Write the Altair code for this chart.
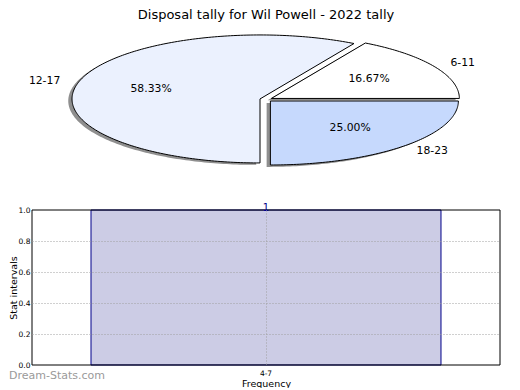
import altair as alt
import numpy as np
import pandas as pd

# ---------------- data ----------------
chart_title = "Disposal tally for Wil Powell - 2022 tally"
pie_labels = ["6-11", "12-17", "18-23"]
pie_values = [2, 7, 3]
pie_colors = ["#ffffff", "#ebf1fe", "#c6d9fd"]

bar_categories = ["4-7"]
bar_counts = [1]

watermark = ["Dream-Stats.com"]

# ---------------- pie geometry (elliptical, exploded, matplotlib-like) ----------------
EXPLODE = 0.033
SH_U, SH_V = -0.02, -0.03
FONT = "DejaVu Sans"

total = float(sum(pie_values))
poly_rows, lab_rows = [], []
start = 0.0
for lab, val in zip(pie_labels, pie_values):
    frac = val / total
    t1, t2 = start * 360.0, (start + frac) * 360.0
    mid = np.deg2rad((t1 + t2) / 2.0)
    cx, cy = EXPLODE * np.cos(mid), EXPLODE * np.sin(mid)
    ang = np.deg2rad(np.linspace(t1, t2, int(np.ceil(t2 - t1)) + 1))
    us = [cx] + list(cx + np.cos(ang)) + [cx]
    vs = [cy] + list(cy + np.sin(ang)) + [cy]
    for k, (u, v) in enumerate(zip(us, vs)):
        poly_rows.append(dict(slice=lab, ord=k, u=u, v=v, su=u + SH_U, sv=v + SH_V))
    lab_rows.append(dict(slice=lab, kind="name", text=lab,
                         u=cx + 1.1 * np.cos(mid), v=cy + 1.1 * np.sin(mid),
                         side="left" if np.cos(mid) >= 0 else "right"))
    lab_rows.append(dict(slice=lab, kind="pct", text=f"{frac * 100:.2f}%",
                         u=cx + 0.6 * np.cos(mid), v=cy + 0.6 * np.sin(mid),
                         side="center"))
    start += frac

poly = pd.DataFrame(poly_rows)
labs = pd.DataFrame(lab_rows)

PW, PH = 468, 145
xs = alt.Scale(domain=[-1.2447, 1.2447], nice=False, zero=False)
ys = alt.Scale(domain=[-1.1797, 1.0859], nice=False, zero=False)

layers = []
for lab, col in zip(pie_labels, pie_colors):
    base = alt.Chart(poly).transform_filter(alt.datum.slice == lab)
    layers.append(base.mark_line(fill="#8f8f8f", stroke=None, strokeWidth=0).encode(
        x=alt.X("su:Q", scale=xs, axis=None),
        y=alt.Y("sv:Q", scale=ys, axis=None),
        order="ord:Q"))
    layers.append(base.mark_line(fill=col, stroke="black", strokeWidth=1).encode(
        x=alt.X("u:Q", scale=xs, axis=None),
        y=alt.Y("v:Q", scale=ys, axis=None),
        order="ord:Q"))

for side in ["left", "right", "center"]:
    layers.append(alt.Chart(labs).transform_filter(alt.datum.side == side).mark_text(
        align=side, baseline="middle", fontSize=10.8, font=FONT, color="black").encode(
        x=alt.X("u:Q", scale=xs, axis=None),
        y=alt.Y("v:Q", scale=ys, axis=None),
        text="text:N"))

pie = alt.layer(*layers).properties(
    width=PW, height=PH,
    title=alt.TitleParams(chart_title, fontSize=13, font=FONT, fontWeight="normal",
                          anchor="middle", offset=8, color="black"),
    view=alt.ViewBackground(stroke=None),
)

# ---------------- bar chart ----------------
bars = pd.DataFrame({"cat": bar_categories, "count": bar_counts})
marks = pd.DataFrame({"t": watermark})
BW, BH = 468, 155
grid_op = {"condition": {"test": "datum.value === 0 || datum.value === 1", "value": 0}, "value": 1}

xb = alt.X("cat:N", scale=alt.Scale(paddingInner=0, paddingOuter=0.1686),
           axis=alt.Axis(title="Frequency", labelAngle=0, grid=True, gridDash=[1, 2],
                         gridColor="#a0a0a0", bandPosition=0.5, ticks=False, domain=False,
                         labelFontSize=7.5, labelFont=FONT, titleFont=FONT, titleFontSize=9.5,
                         titleFontWeight="normal", labelPadding=4, titlePadding=2, zindex=1,
                         labelColor="black", titleColor="black"))
yb = alt.Y("count:Q", scale=alt.Scale(domain=[0, 1], nice=False),
           axis=alt.Axis(title="Stat intervals", values=[0, 0.2, 0.4, 0.6, 0.8, 1.0], format=".1f",
                         labelOverlap=False, labelFlush=False, tickCount=6,
                         grid=True, gridDash=[1, 2], gridColor="#a0a0a0", gridOpacity=grid_op,
                         ticks=False, domain=False, labelFontSize=7.5, labelFont=FONT,
                         titleFont=FONT, titleFontSize=9.5, titleFontWeight="normal",
                         labelPadding=2, titlePadding=0, zindex=1,
                         labelColor="black", titleColor="black"))

bar = alt.Chart(bars).mark_bar(fill="#ccccE5", stroke="#00008b", strokeWidth=1).encode(x=xb, y=yb)
bar_txt = alt.Chart(bars).mark_text(baseline="alphabetic", dy=1, fontSize=10, font=FONT,
                                    color="#00008b").encode(x=xb, y=yb, text="count:Q")
frame = alt.Chart(bars).mark_rect(fill=None, stroke="black", strokeWidth=1).encode(
    x=alt.value(0), x2=alt.value(BW), y=alt.value(0), y2=alt.value(BH))
wm = alt.Chart(marks).mark_text(align="left", baseline="middle", fontSize=11, font=FONT,
                                color="#9a9a9a").encode(
    text="t:N", x=alt.value(-23), y=alt.value(BH + 11))

barchart = alt.layer(bar, frame, bar_txt, wm).properties(
    width=BW, height=BH, view=alt.ViewBackground(stroke=None))

chart = alt.vconcat(pie, barchart, spacing=28).properties(
    padding={"top": 1, "left": 0, "right": 0, "bottom": 0}).configure(font=FONT)

chart.save("out.html", embed_options={"renderer": "svg", "actions": False})
